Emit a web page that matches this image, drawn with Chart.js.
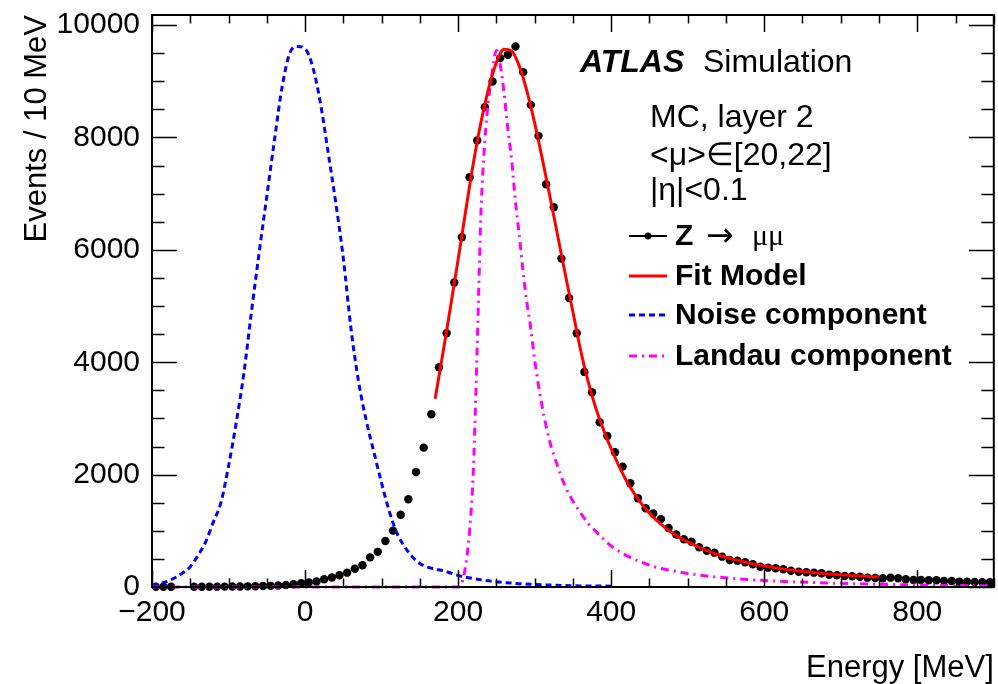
<!DOCTYPE html>
<html><head><meta charset="utf-8">
<script src="https://cdn.jsdelivr.net/npm/chart.js@4.4.1/dist/chart.umd.min.js"></script>
<style>html,body{margin:0;padding:0;background:#fff;}canvas{display:block;}</style>
</head><body>
<canvas id="c" width="998" height="684"></canvas>
<script>
// ---------- data ----------
const binWidth = 10;               // MeV
const firstBinCentre = -195;       // MeV
const zmumuCounts = [
  5,5,5,null,null,5,5,5,6,7,
  8,10,12,14,17,20,26,36,48,68,
  82,98,137,168,208,255,326,386,528,626,
  818,1003,1285,1561,2045,2480,3074,3911,4516,5418,
  6226,7294,7946,8540,8996,9412,9471,9619,9163,8581,
  8029,7169,6760,5845,5145,4516,3828,3466,2932,2688,
  2398,2142,1846,1579,1401,1308,1208,1050,935,850,
  805,707,646,611,540,481,468,440,404,361,
  344,333,315,290,272,262,255,244,219,208,
  196,190,183,166,160,155,166,155,137,125,
  125,119,119,107,107,94,94,89,84,84
];
const binCentres = zmumuCounts.map((_, i) => firstBinCentre + i * binWidth);

const fitEnergy = [170,180,190,200,210,220,230,240,250,260,270,280,290,300,310,320,330,340,350,360,
  370,380,390,400,410,420,430,440,450,460,470,480,490,500,510,520,530,540,550,560,
  570,580,590,600,610,620,630,640,650,660,670,680,690,700,710,720,730,740,750];
const fitCounts = [3350,4150,4980,5830,6700,7550,8280,8880,9330,9570,9540,9270,8820,8260,7620,6950,6260,5570,4900,4220,
  3650,3180,2800,2460,2160,1890,1665,1475,1315,1180,1062,962,877,802,737,677,622,574,530,492,
  457,426,398,372,349,328,309,292,276,262,249,237,226,216,207,199,191,184,177];

const noiseEnergy = [-200,-190,-180,-170,-160,-150,-140,-130,-120,-110,-100,-90,-80,-70,-60,-50,-40,-30,-20,-10,
  0,10,20,30,40,50,60,70,80,90,100,110,120,130,140,150,160,170,180,190,200,
  220,240,260,280,300,320,340,360,380,400];
const noiseCounts = [25,60,100,165,250,361,560,800,1150,1500,2150,2920,3800,4900,5950,6950,7950,8900,9500,9620,
  9580,9260,8620,7750,6850,5850,4600,3650,2960,2400,1850,1350,960,720,540,420,355,320,290,250,205,
  150,110,80,60,45,35,25,20,18,15];

const landauEnergy = [-200,200,205,210,215,220,225,230,235,240,245,250,255,260,265,270,275,280,285,290,
  295,300,310,320,330,340,350,360,370,380,400,420,440,460,480,500,540,600,670,735,800,900];
const landauCounts = [0,0,80,400,1000,2100,4300,6700,7950,8700,9200,9550,9300,8800,8150,7600,6850,6250,5600,5050,
  4600,4050,3200,2580,2150,1790,1530,1320,1130,990,730,560,440,345,290,240,175,115,77,53,36,18];

const xTickValues = [-200, 0, 200, 400, 600, 800];
const yTickValues = [0, 2000, 4000, 6000, 8000, 10000];
const xMinorStep = 50, yMinorStep = 500;
const xRange = [-200, 900], yRange = [0, 10180];

const legendLabels = ['Z', 'Fit Model', 'Noise component', 'Landau component'];
const infoLines = ['MC, layer 2', '<\u03bc>\u2208[20,22]', '|\u03b7|<0.1'];

// ---------- helpers ----------
const pts = (xs, ys) => xs.map((x, i) => ({ x: x, y: ys[i] }));
const SANS = "'Liberation Sans', Arial, Helvetica, sans-serif";
const SERIF = "'Liberation Serif', 'Times New Roman', serif";
Chart.defaults.font.family = SANS;
Chart.defaults.color = '#000';

const frameTicks = {
  id: 'frameTicks',
  afterDatasetsDraw(chart) {
    const { ctx, chartArea: a, scales: { x, y } } = chart;
    ctx.save();
    ctx.strokeStyle = '#000';
    ctx.lineWidth = 2;
    ctx.strokeRect(a.left, a.top, a.right - a.left, a.bottom - a.top);
    ctx.lineWidth = 1.5;
    ctx.beginPath();
    for (let v = xRange[0]; v <= xRange[1]; v += xMinorStep) {
      const px = Math.round(x.getPixelForValue(v)) + 0.5;
      const len = (v % 200 === 0) ? 17 : 8.5;
      ctx.moveTo(px, a.bottom); ctx.lineTo(px, a.bottom - len);
      ctx.moveTo(px, a.top); ctx.lineTo(px, a.top + len);
    }
    for (let v = yRange[0]; v <= yRange[1]; v += yMinorStep) {
      const py = Math.round(y.getPixelForValue(v)) + 0.5;
      const len = (v % 2000 === 0) ? 25 : 12.5;
      ctx.moveTo(a.left, py); ctx.lineTo(a.left + len, py);
      ctx.moveTo(a.right, py); ctx.lineTo(a.right - len, py);
    }
    ctx.stroke();
    ctx.restore();
  }
};

const annotations = {
  id: 'annotations',
  afterDraw(chart) {
    const ctx = chart.ctx;
    const ds = chart.data.datasets;
    ctx.save();
    ctx.fillStyle = '#000';
    ctx.textBaseline = 'alphabetic';
    ctx.textAlign = 'left';
    // ATLAS Simulation
    ctx.font = 'italic bold 32px ' + SANS;
    ctx.fillText('ATLAS', 580, 72);
    ctx.font = '32px ' + SANS;
    ctx.fillText('Simulation', 703, 72);
    // info lines
    const infoY = [127, 165, 200];
    infoLines.forEach((t, i) => ctx.fillText(t, 650, infoY[i]));
    // legend
    const lx0 = 629, lx1 = 667, tx = 675;
    const baseY = [245, 285, 324, 365];
    ds.forEach((d, i) => {
      const ly = baseY[i] - 9;
      ctx.save();
      ctx.strokeStyle = d.borderColor;
      ctx.lineWidth = i === 0 ? 2 : 3;
      ctx.setLineDash(d.borderDash || []);
      ctx.beginPath(); ctx.moveTo(lx0, ly); ctx.lineTo(lx1, ly); ctx.stroke();
      if (i === 0) {
        ctx.fillStyle = d.backgroundColor;
        ctx.beginPath(); ctx.arc((lx0 + lx1) / 2, ly, 3.5, 0, Math.PI * 2); ctx.fill();
      }
      ctx.restore();
      ctx.font = 'bold 30px ' + SANS;
      ctx.fillText(legendLabels[i], tx, baseY[i]);
    });
    // "→ μμ" part of first legend entry
    ctx.font = "33px 'DejaVu Sans'";
    ctx.fillText('\u2192', 706, 246);
    ctx.font = '30px ' + SERIF;
    ctx.fillText('\u03bc\u03bc', 752, 245);
    ctx.restore();
  }
};

new Chart(document.getElementById('c'), {
  type: 'scatter',
  data: {
    datasets: [
      { label: 'Z \u2192 \u03bc\u03bc', data: pts(binCentres, zmumuCounts), showLine: false,
        pointRadius: 4.2, pointBackgroundColor: '#000', pointBorderWidth: 0,
        borderColor: '#000', backgroundColor: '#000', order: 4, clip: 8 },
      { label: 'Fit Model', data: pts(fitEnergy, fitCounts), showLine: true, pointRadius: 0,
        borderColor: '#ff0000', borderWidth: 3, cubicInterpolationMode: 'monotone', order: 1 },
      { label: 'Noise component', data: pts(noiseEnergy, noiseCounts), showLine: true, pointRadius: 0,
        borderColor: '#0000ff', borderWidth: 3, borderDash: [6, 4], cubicInterpolationMode: 'monotone', order: 3, clip: 4 },
      { label: 'Landau component', data: pts(landauEnergy, landauCounts), showLine: true, pointRadius: 0,
        borderColor: '#ff00ff', borderWidth: 3, borderDash: [8, 5, 2, 5], cubicInterpolationMode: 'monotone', order: 2, clip: 4 }
    ]
  },
  options: {
    responsive: false, animation: false, devicePixelRatio: 1,
    layout: { padding: { left: 0, right: 3, top: 15, bottom: 0 } },
    plugins: { legend: { display: false }, tooltip: { enabled: false } },
    scales: {
      x: {
        type: 'linear', min: xRange[0], max: xRange[1],
        grid: { display: false, drawTicks: false }, border: { display: false },
        afterBuildTicks: s => { s.ticks = xTickValues.map(v => ({ value: v })); },
        afterFit: s => { s.height = 97; s.paddingLeft = 0; s.paddingRight = 0; },
        ticks: { font: { size: 30 }, color: '#000', padding: 8, maxRotation: 0, autoSkip: false,
          callback: v => String(v).replace('-', '\u2212') },
        title: { display: true, text: 'Energy [MeV]', align: 'end', font: { size: 31, lineHeight: 1.0 }, color: '#000',
          padding: { top: 0, bottom: 0 } }
      },
      y: {
        type: 'linear', min: yRange[0], max: yRange[1],
        grid: { display: false, drawTicks: false }, border: { display: false },
        afterBuildTicks: s => { s.ticks = yTickValues.map(v => ({ value: v })); },
        afterFit: s => { s.width = 152; s.paddingTop = 0; s.paddingBottom = 0; },
        ticks: { font: { size: 30 }, color: '#000', padding: 12, autoSkip: false,
          callback: v => String(v) },
        title: { display: true, text: 'Events / 10 MeV', align: 'end', font: { size: 31 }, color: '#000',
          padding: { top: 19, bottom: 0 } }
      }
    }
  },
  plugins: [frameTicks, annotations]
});
</script>
</body></html>
